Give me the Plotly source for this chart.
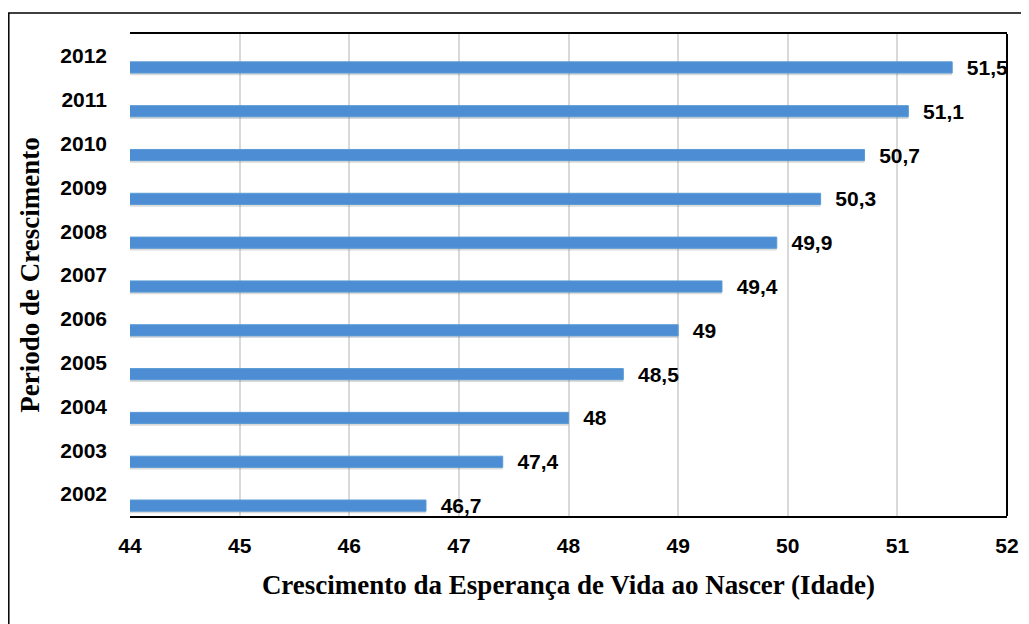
import plotly.graph_objects as go

years = ["2002", "2003", "2004", "2005", "2006", "2007", "2008", "2009", "2010", "2011", "2012"]
life_expectancy = [46.7, 47.4, 48.0, 48.5, 49.0, 49.4, 49.9, 50.3, 50.7, 51.1, 51.5]
x_ticks = [44, 45, 46, 47, 48, 49, 50, 51, 52]

bold_font = dict(family="Liberation Sans", size=21, color="black", weight="bold")
label_font = dict(family="Liberation Sans", size=21, color="black", weight="bold")
serif_font = dict(family="Liberation Serif", size=27, color="black", weight="bold")

fig = go.Figure()

# soft shadow under bars
fig.add_trace(go.Bar(
    y=years, x=life_expectancy, orientation="h",
    offset=-0.44, width=0.27,
    marker=dict(color="rgba(90,90,90,0.22)", line=dict(width=0)),
    hoverinfo="skip", showlegend=False,
))
fig.add_trace(go.Bar(
    y=years, x=life_expectancy, orientation="h",
    offset=-0.39, width=0.255,
    marker=dict(color="#4D8DD3", line=dict(color="#5B9BD5", width=1)),
    texttemplate="\u00a0\u00a0%{x}", textposition="outside", constraintext="none",
    textfont=label_font, cliponaxis=False, showlegend=False,
))

fig.update_layout(
    width=1021, height=616,
    margin=dict(l=122, r=22, t=26, b=108),
    paper_bgcolor="white", plot_bgcolor="white",
    separators=",.",
    barmode="overlay",
    xaxis=dict(
        range=[44, 52], tickvals=x_ticks, ticktext=[str(v) for v in x_ticks],
        showgrid=True, gridcolor="#D9D9D9", gridwidth=1.5,
        showline=True, linecolor="black", linewidth=2, mirror=True,
        tickfont=bold_font, ticks="", ticklabelstandoff=10,
        zeroline=False, automargin=False,
        title=dict(text="Crescimento da Esperança de Vida ao Nascer (Idade)",
                   font=serif_font, standoff=19),
    ),
    yaxis=dict(
        categoryorder="array", categoryarray=years,
        showgrid=False, showline=False, ticks="",
        tickfont=bold_font, ticklabelstandoff=22, automargin=False,
        title=dict(text="Periodo de Crescimento", font=serif_font, standoff=12),
    ),
    shapes=[
        dict(type="line", xref="paper", yref="paper", x0=1, x1=1, y0=0, y1=1,
             line=dict(color="black", width=2)),
        dict(type="rect", xref="paper", yref="paper",
             x0=-0.1382, x1=1.0263, y0=-0.25, y1=1.0436,
             line=dict(color="black", width=1.5), fillcolor="rgba(0,0,0,0)"),
    ],
)

fig.write_html("out.html")
